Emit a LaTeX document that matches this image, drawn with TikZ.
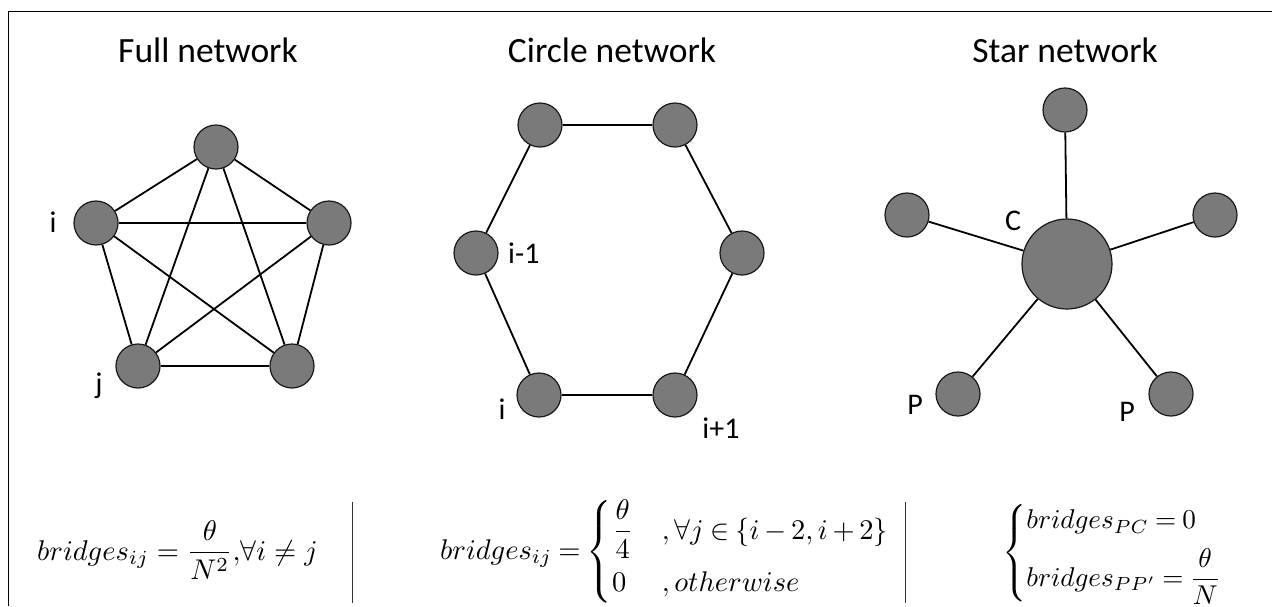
\documentclass[tikz,border=0pt]{standalone}
\usepackage{amsmath}
\usepackage[no-math]{fontspec}
\newfontfamily\carl{Carlito}
\newcommand{\bigmath}[2][2.85]{\scalebox{#1}{#2}}
\tikzset{
  nd/.style={circle, draw=black!90, line width=1.2pt, minimum size=44pt, inner sep=0pt, fill=black!52},
  bignd/.style={nd, minimum size=90pt},
  edge/.style={line width=1.8pt},
  lbl/.style={font=\carl\fontsize{30}{32}\selectfont, inner sep=0pt},
  ttl/.style={font=\carl\fontsize{35.5}{40}\selectfont, inner sep=0pt},
  frm/.style={inner sep=0pt, anchor=base west},
  sep/.style={line width=0.8pt, black!80}
}
\begin{document}
\begin{tikzpicture}[x=1pt,y=-1pt]
\useasboundingbox (0,0) rectangle (1272,606);
\fill[white] (0,0) rectangle (1272,606);
\draw[line width=1pt] (8,606) -- (8,11) -- (1272,11);

% titles
\node[ttl] (t1) at (208,50) {Full network};
\node[ttl] (t2) at (612,50) {Circle network};
\node[ttl] (t3) at (1065,50) {Star network};

% full network
\node[nd] (a1) at (216,147) {};
\node[nd] (a2) at (96,223) {};
\node[nd] (a3) at (329,223) {};
\node[nd] (a4) at (138,366) {};
\node[nd] (a5) at (292,366) {};
\foreach \u/\v in {a1/a2,a1/a3,a1/a4,a1/a5,a2/a3,a2/a4,a2/a5,a3/a4,a3/a5,a4/a5}
  \draw[edge] (\u) -- (\v);
\node[lbl] (li) at (53,222) {i};
\node[lbl] (lj) at (99,386) {j};

% circle network
\node[nd] (b1) at (540,125) {};
\node[nd] (b2) at (675,125) {};
\node[nd] (b3) at (742,253) {};
\node[nd] (b4) at (675,395) {};
\node[nd] (b5) at (539,395) {};
\node[nd] (b6) at (476,253) {};
\foreach \u/\v in {b1/b2,b2/b3,b3/b4,b4/b5,b5/b6,b6/b1}
  \draw[edge] (\u) -- (\v);
\node[lbl, anchor=west] (lim) at (508,253) {i-1};
\node[lbl] (lii) at (502,409) {i};
\node[lbl] (lip) at (721,428) {i+1};

% star network
\node[bignd] (c0) at (1067,264) {};
\node[nd] (c1) at (1065,110) {};
\node[nd] (c2) at (907,215) {};
\node[nd] (c3) at (1215,215) {};
\node[nd] (c4) at (958,394) {};
\node[nd] (c5) at (1171,394) {};
\foreach \v in {c1,c2,c3,c4,c5}
  \draw[edge] (c0) -- (\v);
\node[lbl] (lc) at (1013,221) {C};
\node[lbl] (lp1) at (915,405) {P};
\node[lbl] (lp2) at (1127,412) {P};

% separators
\coordinate (s1a) at (352,502); \coordinate (s1b) at (352,603);
\coordinate (s2a) at (905,502); \coordinate (s2b) at (905,603);
\draw[sep] (s1a) -- (s1b);
\draw[sep] (s2a) -- (s2b);

% formulas
\node[frm] (f1) at (37,560) {\bigmath{$bridges_{ij}=\dfrac{\theta}{N^2}{,}\forall i\neq j$}};
\node[frm] (f2) at (440,559) {\bigmath{\medmuskip=3mu\thickmuskip=4mu$bridges_{ij}=\begin{cases}\dfrac{\theta}{4} & ,\forall j\in\{i-2,i+2\}\\[4pt] 0 & ,otherwise\end{cases}$}};
\node[frm] (f3) at (1002,560) {\bigmath[2.72]{\thickmuskip=4mu$\begin{cases} bridges_{PC}=0\\[3pt] bridges_{PP'}=\dfrac{\theta}{N}\end{cases}$}};
\end{tikzpicture}
\end{document}
